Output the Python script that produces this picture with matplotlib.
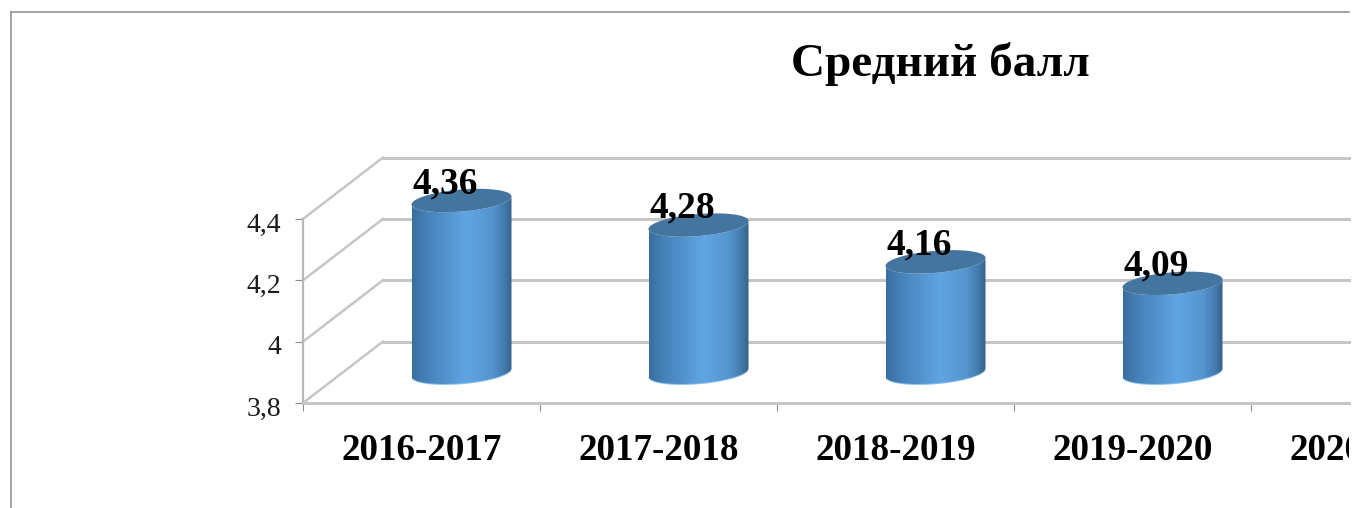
import numpy as np
import matplotlib
matplotlib.use('Agg')
import matplotlib.pyplot as plt
from matplotlib.colors import LinearSegmentedColormap
from matplotlib.lines import Line2D
from matplotlib.patches import Polygon
from matplotlib.transforms import Bbox, ScaledTranslation, TransformedBbox

title = 'Средний балл'
categories = ['2016-2017', '2017-2018', '2018-2019', '2019-2020', '2020-2021']
values = [4.36, 4.28, 4.16, 4.09]
value_labels = ['4,36', '4,28', '4,16', '4,09']
y_ticks = [3.8, 4.0, 4.2, 4.4]
y_tick_labels = ['3,8', '4', '4,2', '4,4']

W, H = 1354, 508
plt.rcParams['font.family'] = ['Liberation Serif', 'DejaVu Serif']

fig = plt.figure(figsize=(W / 100, H / 100), dpi=100, facecolor='white')

# front plane of the 3d box, in pixels of the picture
left, right, top, bottom = 303, 1349, 219, 403
ax = fig.add_axes([left / W, 1 - bottom / H, (right - left) / W, (bottom - top) / H])
cat_px = 237.0
val_px = (bottom - top) / 0.6

depth_x = 80 / cat_px
depth_y = 61.5 / val_px
x_max = (right - left) / cat_px

#
# walls and grid
#
grid_color = '#c6c6c6'
for v in y_ticks:
    ax.plot([depth_x, x_max], [v + depth_y, v + depth_y], color=grid_color, lw=2.2, clip_on=False, zorder=1)
    ax.plot([0, depth_x], [v, v + depth_y], color=grid_color, lw=1.8, clip_on=False, zorder=1)

#
# cylinders
#
cmap = LinearSegmentedColormap.from_list('cyl', [
    (0.0, '#3a6e9f'), (0.15, '#4682ba'), (0.55, '#60a5e3'), (0.8, '#5595cf'), (0.93, '#437aab'), (1.0, '#35628b')])
half_w = 50 / cat_px
tilt = 4 / val_px
half_h = 11 / val_px
t_low = np.linspace(0, np.pi, 60)
t_all = np.linspace(0, 2 * np.pi, 120)
grad = np.linspace(0, 1, 200).reshape(1, -1)

for i, v in enumerate(values):
    cx = i + 0.5 + depth_x / 2
    base = 3.8 + depth_y / 2
    end = v + depth_y / 2
    # outline: lower half of the top ellipse and lower half of the base ellipse
    xs = half_w * np.cos(t_low)
    ys = tilt * np.cos(t_low) - half_h * np.sin(t_low)
    body = np.vstack([
        np.column_stack([cx + xs, end + ys]),
        np.column_stack([cx + xs, base + ys])[::-1],
    ])
    # rim of light under the base
    rim = Polygon(np.column_stack([cx + xs, base + ys - 1 / val_px]), closed=True, fc='#8cc0ee',
                  ec='none', clip_on=False, zorder=2)
    ax.add_patch(rim)
    shape = Polygon(body, closed=True, fc='none', ec='none', clip_on=False, zorder=3)
    ax.add_patch(shape)
    im = ax.imshow(grad, cmap=cmap, aspect='auto', zorder=3, interpolation='bilinear',
                   extent=[cx - half_w, cx + half_w, base - 0.1, end + 0.1])
    im.set_clip_box(fig.bbox)
    im.set_clip_path(shape)
    cap = Polygon(np.column_stack([cx + half_w * np.cos(t_all),
                                   end + tilt * np.cos(t_all) + half_h * np.sin(t_all)]),
                  closed=True, fc='#44759f', ec='none', clip_on=False, zorder=4)
    ax.add_patch(cap)
    ax.annotate(value_labels[i], (cx, end), xytext=(-16 * 0.72, 17 * 0.72), textcoords='offset points',
                ha='center', va='center', fontsize=27, fontweight='bold', color='black', zorder=5,
                annotation_clip=False)

ax.set_xlim(0, x_max)
ax.set_ylim(3.8, 4.4)

#
# axes
#
ax.set_facecolor('none')
ax.spines[['top', 'right']].set_visible(False)
ax.spines['left'].set_color('#b8b8b8')
ax.spines['left'].set_linewidth(1.6)
ax.spines['bottom'].set_color(grid_color)
ax.spines['bottom'].set_linewidth(2.2)
ax.set_yticks(y_ticks)
ax.set_yticklabels(y_tick_labels, fontsize=20, color='#1a1a1a')
ax.set_xticks(range(len(categories)))
ax.set_xticklabels([])
ax.tick_params(axis='y', length=5.5, width=0.8, color='#8a8a8a', pad=10.5)
ax.tick_params(axis='x', length=5.5, width=0.8, color='#8a8a8a')
for lab in ax.get_yticklabels():
    lab.set_transform(lab.get_transform() + ScaledTranslation(0, -3 / 100, fig.dpi_scale_trans))

# category labels sit between the ticks, the last one runs off the picture
visible = TransformedBbox(Bbox([[0, 0], [right / W, 1]]), fig.transFigure)
for i, name in enumerate(categories):
    lbl = ax.annotate(name, (i + 0.5, 3.8), xytext=(0, -47.5 * 0.72), textcoords='offset points',
                      ha='center', va='center', fontsize=26.7, fontweight='bold', color='black',
                      annotation_clip=False)
    lbl.set_clip_box(visible)
    lbl.set_clip_on(True)

fig.text(940 / W, 1 - 64 / H, title, ha='center', va='center', fontsize=34, fontweight='bold', color='black')

# outer chart frame, cut by the crop of the picture
frame = '#8c8c8c'
fig.add_artist(Line2D([10.5 / W, right / W], [1 - 11.5 / H, 1 - 11.5 / H], color=frame, lw=1.1))
fig.add_artist(Line2D([10.5 / W, 10.5 / W], [0, 1 - 11.5 / H], color=frame, lw=1.1))

fig.savefig('out.png', dpi=100, facecolor='white')
